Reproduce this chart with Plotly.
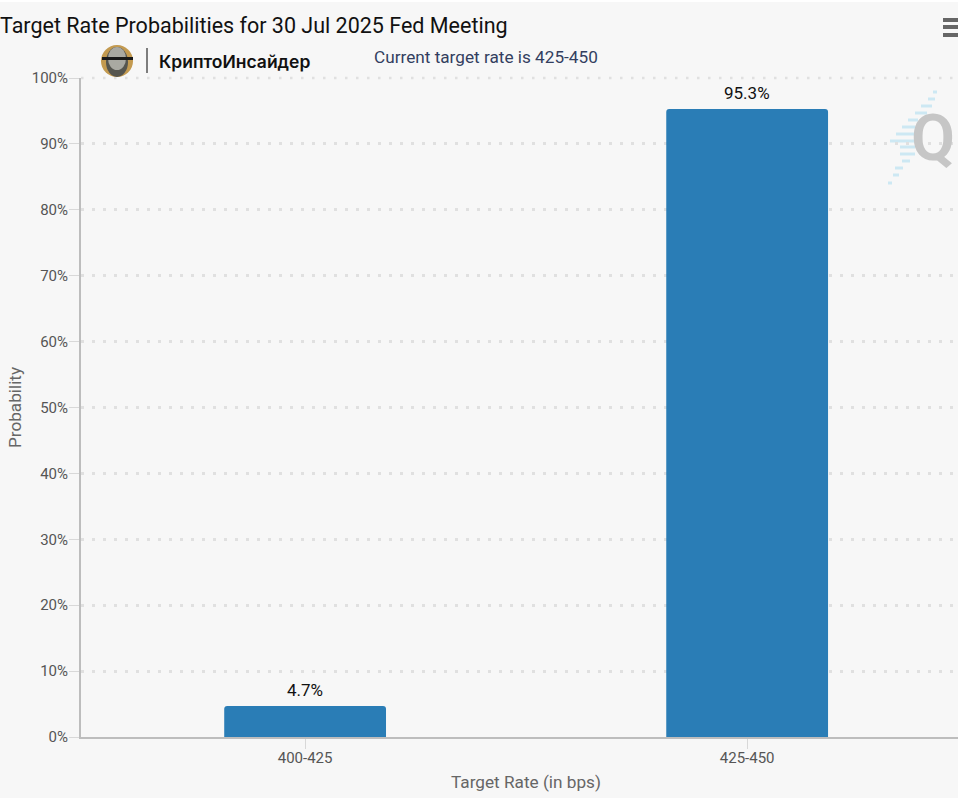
import plotly.graph_objects as go

W = 958
H = 798
L = 81
R = 0
T = 78
B = 61

rates = ["400-425", "425-450"]
probs = [4.7, 95.3]
prob_labels = ["4.7%", "95.3%"]
y_ticks = [0, 10, 20, 30, 40, 50, 60, 70, 80, 90, 100]
y_tick_labels = ["0%", "10%", "20%", "30%", "40%", "50%", "60%", "70%", "80%", "90%", "100%"]

# watermark stripes, page pixels: y, x0, x1
stripes = [
    (92, 933, 937), (99, 928, 935), (106, 921, 932), (113, 915, 927),
    (120, 908, 918), (127, 902, 915), (134, 896, 915), (141, 890, 915),
    (147, 900, 915), (154, 900, 915), (161, 902, 910), (168, 895, 903),
    (175, 893, 899), (183, 888, 892),
]
menu_bars = [20, 27, 35]


def px(x):
    return (x - L) / (W - L - R)


def py(y):
    return 1 - (y - T) / (H - T - B)


shapes = []
for y, x0, x1 in stripes:
    shapes.append(dict(type="line", xref="paper", yref="paper", x0=px(x0), x1=px(x1), y0=py(y), y1=py(y),
                       line=dict(color="#cde8f3", width=3), layer="below"))
for y in menu_bars:
    shapes.append(dict(type="line", xref="paper", yref="paper", x0=px(943), x1=px(958), y0=py(y), y1=py(y),
                       line=dict(color="#666666", width=4)))

# plotly drops the grid line sitting on the top edge, so put the 100% one back
shapes.append(dict(type="line", xref="paper", yref="paper", x0=0, x1=1, y0=1, y1=1,
                   line=dict(color="#e0e0e0", width=2.5, dash="2.5px,8.5px"), layer="below"))

# logo
shapes.append(dict(type="circle", xref="paper", yref="paper", x0=px(101), x1=px(133), y0=py(45), y1=py(77),
                   fillcolor="#c39a50", line=dict(width=0)))
shapes.append(dict(type="circle", xref="paper", yref="paper", x0=px(106), x1=px(128), y0=py(47), y1=py(77),
                   fillcolor="#55554f", line=dict(width=0)))
shapes.append(dict(type="circle", xref="paper", yref="paper", x0=px(108), x1=px(126), y0=py(47), y1=py(70),
                   fillcolor="#a9a9a2", line=dict(width=0)))
shapes.append(dict(type="rect", xref="paper", yref="paper", x0=px(102), x1=px(133), y0=py(57), y1=py(60),
                   fillcolor="#1a1a1a", line=dict(width=0)))
shapes.append(dict(type="line", xref="paper", yref="paper", x0=px(147), x1=px(147), y0=py(48), y1=py(73),
                   line=dict(color="#555555", width=1.5)))
# lighter strip along the top edge
shapes.append(dict(type="rect", xref="paper", yref="paper", x0=px(0), x1=px(W), y0=py(0), y1=py(2),
                   fillcolor="#ffffff", line=dict(width=0)))

annotations = []
for r, p, t in zip(rates, probs, prob_labels):
    annotations.append(dict(x=r, y=p, text=t, showarrow=False, yshift=16,
                            font=dict(family="Roboto", size=17, color="#111111")))

annotations.append(dict(text="Target Rate Probabilities for 30 Jul 2025 Fed Meeting", xref="paper", yref="paper",
                        x=px(-2), y=py(25), xanchor="left", yanchor="middle", showarrow=False,
                        font=dict(family="Roboto", size=21.5, color="#111111")))
annotations.append(dict(text="Current target rate is 425-450", xref="paper", yref="paper",
                        x=px(486), y=py(57), xanchor="center", yanchor="middle", showarrow=False,
                        font=dict(family="Roboto", size=17.2, color="#333f5f")))
annotations.append(dict(text="КриптоИнсайдер", xref="paper", yref="paper",
                        x=px(157), y=py(61), xanchor="left", yanchor="middle", showarrow=False,
                        font=dict(family="Inter", size=17.5, color="#111111", weight=600)))
annotations.append(dict(text="Q", xref="paper", yref="paper",
                        x=px(933), y=py(138), xanchor="center", yanchor="middle", showarrow=False,
                        font=dict(family="Roboto", size=64, color="#c6c6c6", weight=600)))
annotations.append(dict(text="Target Rate (in bps)", xref="paper", yref="paper",
                        x=px(526), y=py(782), xanchor="center", yanchor="middle", showarrow=False,
                        font=dict(family="Roboto", size=17.2, color="#666666")))

fig = go.Figure(go.Bar(x=rates, y=probs, width=0.366, marker=dict(color="#2a7db6", cornerradius=3, line=dict(width=0))))

fig.update_layout(
    width=W,
    height=H,
    margin=dict(l=L, r=R, t=T, b=B, pad=0),
    paper_bgcolor="#f7f7f7",
    plot_bgcolor="#f7f7f7",
    font=dict(family="Roboto", size=15, color="#555555"),
    showlegend=False,
    shapes=shapes,
    annotations=annotations,
)
fig.update_xaxes(
    type="category",
    range=[-0.507, 1.477],
    showgrid=False,
    showline=True,
    linecolor="#bdbdbd",
    linewidth=2,
    ticks="outside",
    ticklen=10,
    tickwidth=1,
    tickcolor="#d8d8d8",
    ticklabelstandoff=-4,
    tickfont=dict(size=15, color="#555555"),
)
fig.update_yaxes(
    range=[0, 100],
    tickvals=y_ticks,
    ticktext=y_tick_labels,
    showgrid=True,
    gridcolor="#e0e0e0",
    gridwidth=2.5,
    griddash="2.5px,8.5px",
    showline=True,
    linecolor="#bdbdbd",
    linewidth=2,
    ticks="outside",
    ticklen=10,
    tickwidth=1,
    tickcolor="#d8d8d8",
    ticklabelstandoff=-2,
    tickfont=dict(size=15, color="#555555"),
    zeroline=False,
    title=dict(text="Probability", font=dict(family="Roboto", size=17.2, color="#666666"), standoff=6),
)

fig.write_html("out.html", config=dict(displayModeBar=False),
               post_script="document.body.style.margin='0';document.body.style.overflow='hidden';")
